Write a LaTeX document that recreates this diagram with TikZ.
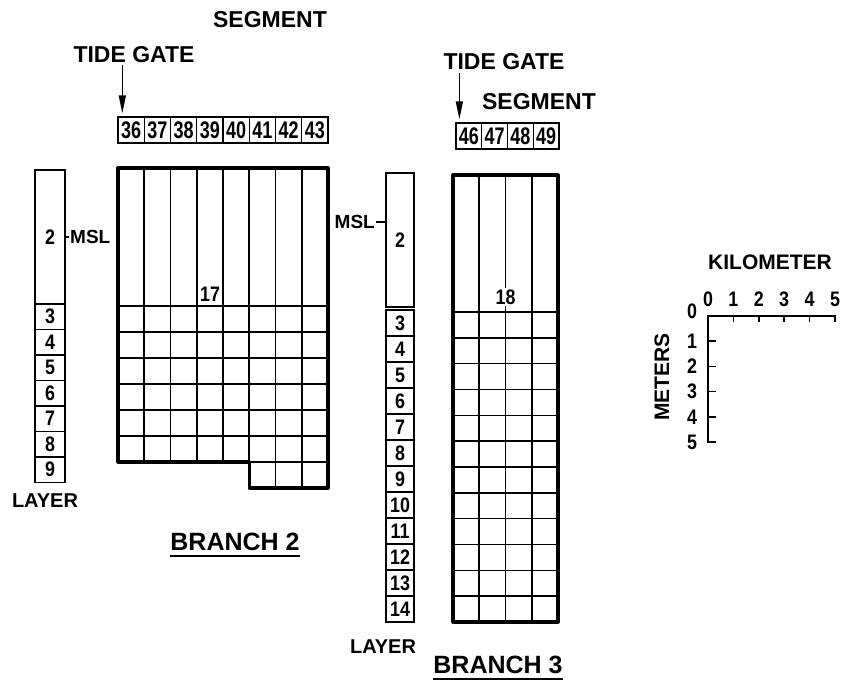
\documentclass[tikz,border=0pt]{standalone}
\usepackage{fontspec}
\setmainfont{Liberation Sans}
\newfontfamily\narrowfont{Liberation Sans}[FakeStretch=0.75]
\newfontfamily\semifont{Liberation Sans}[FakeStretch=0.85]
\usetikzlibrary{arrows.meta, positioning, calc}

\begin{document}
\begin{tikzpicture}[
    x=1pt, y=-1pt,
    txt/.style={font=\fontsize{#1}{#1}\selectfont\bfseries, inner sep=0pt},
    num/.style={font=\semifont\fontsize{#1}{#1}\selectfont\bfseries, inner sep=0pt},
    segbox/.style={draw, line width=1.3pt, minimum width=26.25pt, minimum height=26pt, inner sep=0pt,
        font=\narrowfont\fontsize{24}{24}\selectfont\bfseries},
    laybox/.style={draw, line width=1.3pt, minimum width=#1, inner sep=0pt,
        font=\semifont\fontsize{21}{21}\selectfont\bfseries},
    gatearrow/.style={-{Triangle[length=18pt, width=7pt]}, line width=1.5pt},
    cell/.style={line width=1.6pt},
    rim/.style={line width=3.2pt, line join=round},
]
\useasboundingbox (0,0) rectangle (843,685);

% --- branch 2 ---
\node[txt=23] (seghead2) at (270,20) {SEGMENT};
\node[txt=23] (gate2) at (134,55) {TIDE GATE};
\foreach \s [count=\i from 0] in {36,...,43}
    \node[segbox] (seg\s) at ({131.1+26.25*\i},130) {\s};
\coordinate (gate2tip) at ([xshift=5pt, yshift=3pt]seg36.north west);
\draw[gatearrow] ([yshift=-2pt]gate2.south -| gate2tip) -- (gate2tip);

% layer column
\node[laybox=30pt, minimum height=134pt] (L2-2) at (50,237) {2};
\foreach \k in {3,...,9}
    \node[laybox=30pt, minimum height=25.5pt] (L2-\k) at (50,{304+25.5*(\k-2.5)}) {\k};
\node[txt=20, below=10pt of L2-9, xshift=-5pt] (lay2) {LAYER};
\node[txt=19, anchor=west] (msl2) at (70,237) {MSL};
\draw[line width=1.3pt] (L2-2.east |- msl2.west) -- ([xshift=-1pt]msl2.west);

% grid
\foreach \i in {1,...,7}
    \draw[cell] ({118+26.25*\i},168) -- ({118+26.25*\i},462);
\foreach \i in {6,7}
    \draw[cell] ({118+26.25*\i},462) -- ({118+26.25*\i},488);
\foreach \k in {0,...,5}
    \draw[cell] (118,{306+26*\k}) -- (328,{306+26*\k});
\draw[cell] (249.25,462) -- (328,462);
\draw[rim] (118,168) -- (328,168) -- (328,488) -- (249.25,488) -- (249.25,462) -- (118,462) -- cycle;
\node[num=21] (cell17) at (210,294) {17};

\node[txt=25] (branch2) at (235,542) {BRANCH 2};
\draw[line width=2pt] ([yshift=-5pt]branch2.south west) -- ([yshift=-5pt]branch2.south east);

% --- branch 3 ---
\node[txt=23] (gate3) at (504,62) {TIDE GATE};
\node[txt=23] (seghead3) at (539,102) {SEGMENT};
\foreach \s [count=\i from 0] in {46,...,49}
    \node[segbox, minimum width=25.75pt] (seg\s) at ({468.9+25.75*\i},136) {\s};
\coordinate (gate3tip) at ([xshift=4pt, yshift=3pt]seg46.north west);
\draw[gatearrow] ([yshift=-3pt]gate3.south -| gate3tip) -- (gate3tip);

% layer column
\node[laybox=28pt, minimum height=134pt] (L3-2) at (400,240) {2};
\foreach \k in {3,...,14}
    \node[laybox=28pt, minimum height=26pt] (L3-\k) at (400,{310+26*(\k-2.5)}) {\k};
\node[txt=20, below=17pt of L3-14, xshift=-17pt] (lay3) {LAYER};
\node[txt=19, anchor=east] (msl3) at (375,222) {MSL};
\draw[line width=1.3pt] ([xshift=1pt]msl3.east) -- (msl3.east -| L3-2.west);

% grid
\foreach \i in {1,...,3}
    \draw[cell] ({453+26.25*\i},175) -- ({453+26.25*\i},622);
\foreach \k in {0,...,11}
    \draw[cell] (453,{312+25.83*\k}) -- (558,{312+25.83*\k});
\draw[rim] (453,175) rectangle (558,622);
\node[num=21, fill=white, inner sep=2pt] (cell18) at (505.5,297) {18};

\node[txt=25] (branch3) at (498,665) {BRANCH 3};
\draw[line width=2pt] ([yshift=-5pt]branch3.south west) -- ([yshift=-5pt]branch3.south east);

% --- scale ---
\draw[line width=1.6pt] (835,322) -- (835,316) -- (708,316) -- (708,442) -- (716,442);
\foreach \i in {1,...,4}
    \draw[line width=1.6pt] ({708+25.4*\i},316) -- ({708+25.4*\i},322);
\foreach \j in {1,...,4}
    \draw[line width=1.6pt] (708,{316+25.2*\j}) -- (716,{316+25.2*\j});
\foreach \i in {0,...,5}
    \node[num=21] (km\i) at ({708+25.4*\i},299) {\i};
\node[num=21] (m0) at (692,311) {0};
\foreach \j in {1,...,5}
    \node[num=21] (m\j) at (692,{316+25.2*\j}) {\j};
\node[txt=21] (kmhead) at (770,262) {KILOMETER};
\node[txt=21, rotate=90] (mhead) at (662,377) {METERS};

\end{tikzpicture}
\end{document}
